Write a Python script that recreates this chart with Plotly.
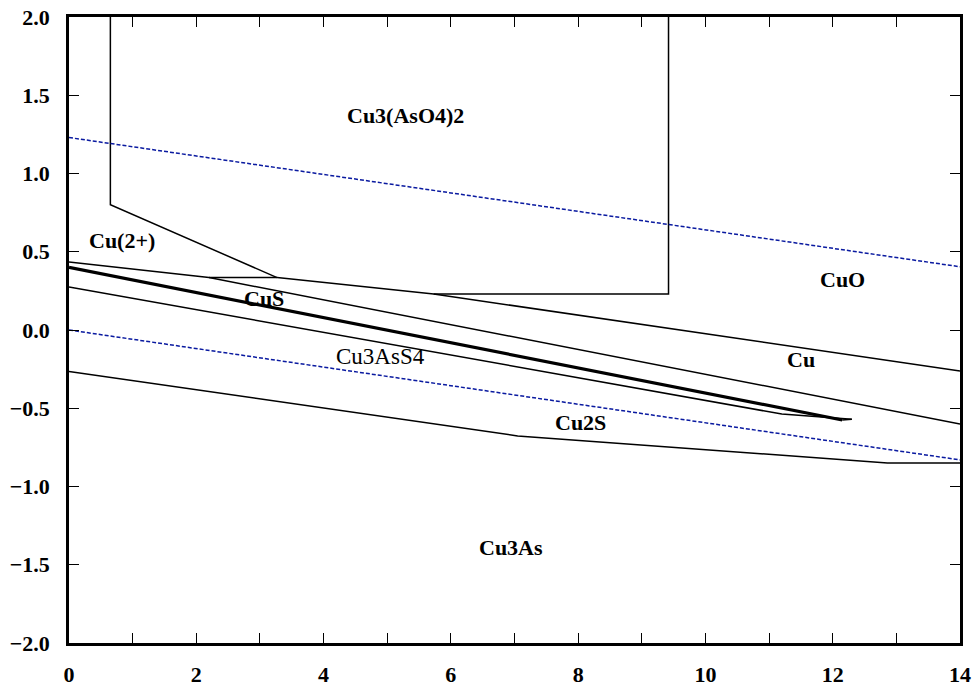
import plotly.graph_objects as go

# Eh-pH boundaries (pH, Eh in volts)
box_left_x = [0.65, 0.65, 3.27]
box_left_y = [2.0, 0.80, 0.335]
cus_top_x = [2.20, 3.27, 5.73, 14.0]
cus_top_y = [0.335, 0.335, 0.23, -0.262]
box_right_x = [5.73, 9.42, 9.42]
box_right_y = [0.23, 0.23, 2.0]
cu_line_x = [0.0, 2.20, 14.0]
cu_line_y = [0.435, 0.335, -0.60]
thick_x = [0.0, 12.15]
thick_y = [0.40, -0.575]
sulfide_x = [0.0, 11.2, 12.3]
sulfide_y = [0.275, -0.537, -0.57]
arsenide_x = [0.0, 7.05, 12.86, 14.0]
arsenide_y = [-0.265, -0.677, -0.85, -0.85]

# water stability limits
water_ph = [0.0, 14.0]
o2_line = [1.23, 0.404]
h2_line = [0.0, -0.83]

# field labels
label_text = ["Cu3(AsO4)2", "Cu(2+)", "CuS", "Cu3AsS4", "Cu2S", "Cu", "CuO", "Cu3As"]
label_x = [5.29, 0.84, 3.06, 4.9, 8.04, 11.5, 12.15, 6.94]
label_y = [1.37, 0.575, 0.20, -0.17, -0.59, -0.19, 0.32, -1.39]
label_bold = [True, True, True, False, True, True, True, True]

x_ticks = list(range(0, 15))
x_ticktext = [str(v) if v % 2 == 0 else "" for v in x_ticks]
y_ticks = [-2.0, -1.5, -1.0, -0.5, 0.0, 0.5, 1.0, 1.5, 2.0]

serif = "Liberation Serif, Times New Roman, serif"

fig = go.Figure()

for xs, ys, w in [
    (box_left_x, box_left_y, 1.5),
    (cus_top_x, cus_top_y, 1.5),
    (box_right_x, box_right_y, 1.5),
    (cu_line_x, cu_line_y, 1.5),
    (thick_x, thick_y, 3.2),
    (sulfide_x, sulfide_y, 1.5),
    ([thick_x[-1], sulfide_x[-1]], [thick_y[-1], sulfide_y[-1]], 1.5),
    (arsenide_x, arsenide_y, 1.5),
]:
    fig.add_trace(go.Scatter(x=xs, y=ys, mode="lines",
                             line=dict(color="black", width=w),
                             showlegend=False, hoverinfo="skip"))

for ys in (o2_line, h2_line):
    fig.add_trace(go.Scatter(x=water_ph, y=ys, mode="lines",
                             line=dict(color="#0a1aa0", width=1.5, dash="4px,2px"),
                             showlegend=False, hoverinfo="skip"))

for t, x, y, b in zip(label_text, label_x, label_y, label_bold):
    fig.add_annotation(x=x, y=y, text=t, showarrow=False,
                       font=dict(family=serif, size=22 if b else 23,
                                 color="black", weight="bold" if b else "normal"))

axis_common = dict(showgrid=False, zeroline=False, showline=True, automargin=False,
                   linecolor="black", linewidth=2.5, mirror="ticks",
                   ticks="inside", ticklen=10, tickwidth=1, tickcolor="black",
                   tickfont=dict(family=serif, size=22, color="black", weight="bold"))

fig.update_xaxes(range=[0, 14], tickvals=x_ticks, ticktext=x_ticktext,
                 ticklabelstandoff=10, **axis_common)
fig.update_yaxes(range=[-2, 2], tickvals=y_ticks, tickformat=".1f",
                 ticklabelstandoff=12, **axis_common)

fig.update_layout(width=980, height=690,
                  margin=dict(l=69, r=20, t=17, b=47),
                  paper_bgcolor="white", plot_bgcolor="white",
                  font=dict(family=serif))

fig.write_html("out.html")
